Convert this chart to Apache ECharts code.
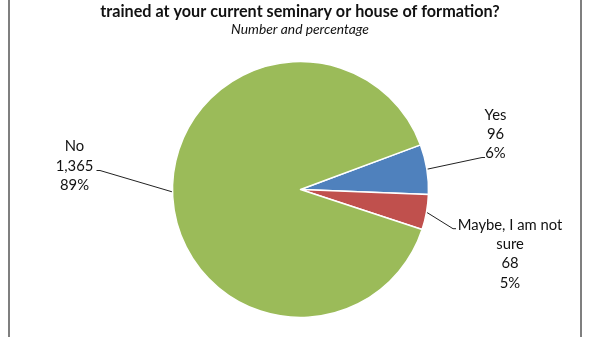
<!DOCTYPE html>
<html>
<head>
<meta charset="utf-8">
<script src="https://cdn.jsdelivr.net/npm/echarts@6/dist/echarts.min.js"></script>
<style>
  html, body { margin: 0; padding: 0; background: #fff; }
  #chart { width: 600px; height: 337px; }
</style>
</head>
<body>
<div id="chart"></div>
<script>
// ---- data ----
const categories = ['Yes', 'Maybe, I am not sure', 'No'];
const counts = [96, 68, 1365];
const percentLabels = ['6%', '5%', '89%'];
const labelNames = ['Yes', 'Maybe, I am not\nsure', 'No'];
const titleText = 'trained at your current seminary or house of formation?';
const subtitleText = 'Number and percentage';

// ---- styling / layout ----
const colors = ['#4F81BD', '#C0504D', '#9BBB59'];
const FONT = 'Lato, "Open Sans", sans-serif';
// label anchor layout: text centre, and where the leader line ends
const labelPlacement = [
  { cx: 495.5, cy: 134.3, bend: [482, 157.5], end: [485, 157.5] },
  { cx: 510,   cy: 254,   bend: [453, 228.7], end: [456, 228.7] },
  { cx: 74.5,  cy: 166,   bend: [100, 170.5], end: [96.5, 170.5] }
];

const chart = echarts.init(document.getElementById('chart'), null, { renderer: 'canvas' });

const seriesData = categories.map((c, i) => ({
  name: c,
  value: counts[i],
  itemStyle: { color: colors[i] }
}));

chart.setOption({
  animation: false,
  backgroundColor: '#ffffff',
  title: {
    left: 'center',
    top: 0,
    padding: [3, 9, 0, 0],
    text: titleText,
    subtext: subtitleText,
    itemGap: 1,
    textStyle: { fontFamily: FONT, fontWeight: 'bold', fontSize: 16.2, lineHeight: 18, color: '#111' },
    subtextStyle: { fontFamily: FONT, fontStyle: 'italic', fontSize: 13.8, lineHeight: 15, color: '#111' }
  },
  graphic: [{
    type: 'rect',
    silent: true,
    shape: { x: 9, y: -10, width: 572, height: 360 },
    style: { fill: 'none', stroke: '#7f7f7f', lineWidth: 2 }
  }],
  series: [{
    type: 'pie',
    center: [300.5, 189.5],
    radius: 128,
    startAngle: 20.4,
    clockwise: true,
    avoidLabelOverlap: false,
    itemStyle: { borderColor: '#ffffff', borderWidth: 1.5 },
    label: {
      show: true,
      position: 'outside',
      fontFamily: FONT,
      fontSize: 14.8,
      lineHeight: 19.3,
      color: '#111',
      align: 'center',
      formatter: function (p) {
        const i = p.dataIndex;
        return labelNames[i] + '\n' + counts[i].toLocaleString('en-US') + '\n' + percentLabels[i];
      }
    },
    labelLine: { show: true, length: 20, length2: 10, smooth: false, lineStyle: { color: '#222', width: 1 } },
    labelLayout: function (params) {
      const lp = labelPlacement[params.dataIndex];
      const start = params.labelLinePoints ? params.labelLinePoints[0] : lp.bend;
      return {
        x: lp.cx,
        y: lp.cy,
        align: 'center',
        verticalAlign: 'middle',
        labelLinePoints: [start, lp.bend, lp.end]
      };
    },
    emphasis: { disabled: true },
    data: seriesData
  }]
});
</script>
</body>
</html>
